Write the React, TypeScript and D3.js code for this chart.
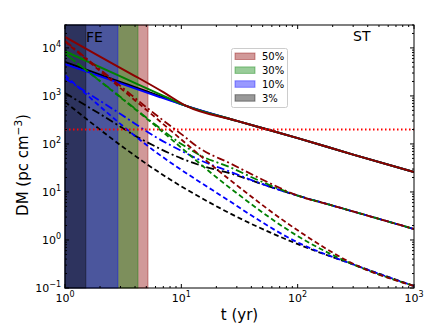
import React from "react";
import * as d3 from "d3";

const width = 436;
const height = 327;
const marginTop = 25;
const marginRight = 22;
const marginBottom = 39;
const marginLeft = 65;

const fractions = ["50%", "30%", "10%", "3%"];
const colors = ["#8b0000", "#008000", "#0000ff", "#000000"];
// end of the shaded interval for each fraction (yr)
const bandEnd = [5.17, 4.24, 2.85, 1.51];
const dmLimit = 200;

const xMajor = [1, 10, 100, 1000];
const yMajor = [0.1, 1, 10, 100, 1000, 10000];

// [t (yr), DM]
const solidRed = [[1, 16900], [2, 6600], [4, 2600], [7, 1200], [11, 620], [30, 302], [100, 132], [300, 60], [1000, 26]];
const solidGreen = [[1, 8500], [3, 2550], [6.5, 1090], [11, 620], [30, 302], [100, 132], [300, 60], [1000, 26]];
const solidBlue = [[1, 4600], [3, 1830], [6.5, 950], [11, 620], [30, 302], [100, 132], [300, 60], [1000, 26]];
const solidBlack = [[1, 5100], [2.7, 2120], [6.5, 1000], [11, 620], [30, 302], [100, 132], [300, 60], [1000, 26]];

const dashdotRed = [[1, 14000], [3, 1600], [6, 410], [10, 160], [14.5, 80], [26.2, 39.6], [50, 18], [100, 8.4], [200, 5.2], [500, 2.75], [1000, 1.69]];
const dashdotGreen = [[1, 7600], [3, 950], [6, 250], [10, 100], [14.5, 58], [26.2, 32.7], [50, 16], [100, 8.4], [200, 5.2], [500, 2.75], [1000, 1.69]];
const dashdotBlue = [[1, 2300], [3, 420], [6, 140], [10, 72], [14.5, 46], [26.2, 26.5], [50, 14.5], [100, 8.4], [200, 5.2], [500, 2.75], [1000, 1.69]];
const dashdotBlack = [[1, 1150], [2, 420], [4.4, 131], [10, 50], [14.5, 36], [26.2, 24.5], [50, 14.5], [100, 8.4], [200, 5.2], [500, 2.75], [1000, 1.69]];

const dashedRed = [[1, 13500], [5.17, 480], [26.2, 17.8], [104, 1.49], [300, 0.32], [1000, 0.11]];
const dashedGreen = [[1, 7600], [5.17, 320], [26.2, 12.1], [104, 1.14], [300, 0.31], [1000, 0.11]];
const dashedBlue = [[1, 2700], [5.71, 75], [21.5, 8.66], [104, 0.85], [300, 0.31], [1000, 0.11]];
const dashedBlack = [[1, 750], [3.41, 75], [5.17, 36.5], [21.5, 4.6], [104, 0.79], [300, 0.31], [1000, 0.11]];

const series = [
  { pts: dashedBlack, c: 3, dash: "5,3" },
  { pts: dashdotBlack, c: 3, dash: "8,3,2,3" },
  { pts: solidBlack, c: 3, dash: null },
  { pts: dashedBlue, c: 2, dash: "5,3" },
  { pts: dashdotBlue, c: 2, dash: "8,3,2,3" },
  { pts: solidBlue, c: 2, dash: null },
  { pts: dashedGreen, c: 1, dash: "5,3" },
  { pts: dashdotGreen, c: 1, dash: "8,3,2,3" },
  { pts: solidGreen, c: 1, dash: null },
  { pts: dashedRed, c: 0, dash: "5,3" },
  { pts: dashdotRed, c: 0, dash: "8,3,2,3" },
  { pts: solidRed, c: 0, dash: null },
];

const font = "DejaVu Sans, sans-serif";

function pow10(e: number) {
  return e < 0 ? "\u2212" + Math.abs(e) : String(e);
}

export default function App() {
  const x = d3.scaleLog().domain([1, 1000]).range([marginLeft, width - marginRight]);
  const y = d3.scaleLog().domain([0.1, 3e4]).range([height - marginBottom, marginTop]);
  const line = d3
    .line<number[]>()
    .x((d) => x(d[0]))
    .y((d) => y(d[1]))
    .curve(d3.curveMonotoneX);

  const xMinor: number[] = [];
  for (let p = 1; p < 1000; p *= 10) for (let k = 2; k <= 9; k++) xMinor.push(p * k);
  const yMinor: number[] = [];
  for (let p = 0.1; p < 3e4; p *= 10)
    for (let k = 2; k <= 9; k++) if (p * k <= 3e4) yMinor.push(p * k);

  const x0 = marginLeft;
  const x1 = width - marginRight;
  const y0 = height - marginBottom;
  const y1 = marginTop;

  return (
    <svg
      width={width}
      height={height}
      style={{ position: "absolute", left: 0, top: 0, background: "white" }}
      fontFamily={font}
    >
      <defs>
        <clipPath id="plot">
          <rect x={x0} y={y1} width={x1 - x0} height={y0 - y1} />
        </clipPath>
      </defs>
      {/* shaded intervals */}
      {bandEnd.map((t, i) => (
        <rect
          key={i}
          x={x(1)}
          y={y1}
          width={x(t) - x(1)}
          height={y0 - y1}
          fill={colors[i]}
          fillOpacity={0.4}
          stroke={colors[i]}
          strokeOpacity={0.4}
        />
      ))}
      <g clipPath="url(#plot)" fill="none">
        {series.map((s, i) => (
          <path
            key={i}
            d={line(s.pts) || ""}
            stroke={colors[s.c]}
            strokeWidth={s.dash ? 1.8 : 2}
            strokeDasharray={s.dash || undefined}
          />
        ))}
        <line
          x1={x0}
          x2={x1}
          y1={y(dmLimit)}
          y2={y(dmLimit)}
          stroke="red"
          strokeWidth={1.8}
          strokeDasharray="1.5,2.5"
        />
      </g>
      {/* frame */}
      <rect x={x0} y={y1} width={x1 - x0} height={y0 - y1} fill="none" stroke="black" strokeWidth={1} />
      {/* ticks */}
      {xMajor.map((t) => (
        <g key={"xm" + t} stroke="black">
          <line x1={x(t)} x2={x(t)} y1={y0} y2={y0 - 4} />
          <line x1={x(t)} x2={x(t)} y1={y1} y2={y1 + 4} />
        </g>
      ))}
      {xMinor.map((t) => (
        <g key={"xn" + t} stroke="black">
          <line x1={x(t)} x2={x(t)} y1={y0} y2={y0 - 2} />
          <line x1={x(t)} x2={x(t)} y1={y1} y2={y1 + 2} />
        </g>
      ))}
      {yMajor.map((v) => (
        <g key={"ym" + v} stroke="black">
          <line x1={x0} x2={x0 + 4} y1={y(v)} y2={y(v)} />
          <line x1={x1} x2={x1 - 4} y1={y(v)} y2={y(v)} />
        </g>
      ))}
      {yMinor.map((v) => (
        <g key={"yn" + v} stroke="black">
          <line x1={x0} x2={x0 + 2} y1={y(v)} y2={y(v)} />
          <line x1={x1} x2={x1 - 2} y1={y(v)} y2={y(v)} />
        </g>
      ))}
      {/* tick labels */}
      {xMajor.map((t) => (
        <text key={"xl" + t} x={x(t)} y={y0 + 14} textAnchor="middle" fontSize={11}>
          10
          <tspan dy={-5} fontSize={8}>
            {pow10(Math.round(Math.log10(t)))}
          </tspan>
        </text>
      ))}
      {yMajor.map((v) => (
        <text key={"yl" + v} x={x0 - 4} y={y(v) + 4} textAnchor="end" fontSize={11}>
          10
          <tspan dy={-5} fontSize={8}>
            {pow10(Math.round(Math.log10(v)))}
          </tspan>
        </text>
      ))}
      {/* axis labels */}
      <text x={(x0 + x1) / 2} y={320} textAnchor="middle" fontSize={15}>
        t (yr)
      </text>
      <text
        transform={`translate(28,165) rotate(-90)`}
        textAnchor="middle"
        fontSize={15}
      >
        DM (pc cm
        <tspan dy={-6} fontSize={10.5}>
          {"\u22123"}
        </tspan>
        <tspan dy={6}>)</tspan>
      </text>
      <text x={86} y={42} fontSize={14}>
        FE
      </text>
      <text x={353} y={41} fontSize={14}>
        ST
      </text>
      {/* legend */}
      <rect x={231.5} y={48.5} width={56} height={59} rx={2} fill="white" fillOpacity={0.8} stroke="#cccccc" />
      {fractions.map((f, i) => (
        <g key={f}>
          <rect
            x={235}
            y={53 + i * 13.9}
            width={20}
            height={6.5}
            fill={colors[i]}
            fillOpacity={0.4}
            stroke={colors[i]}
            strokeOpacity={0.4}
          />
          <text x={262} y={60 + i * 13.9} fontSize={10}>
            {f}
          </text>
        </g>
      ))}
    </svg>
  );
}
